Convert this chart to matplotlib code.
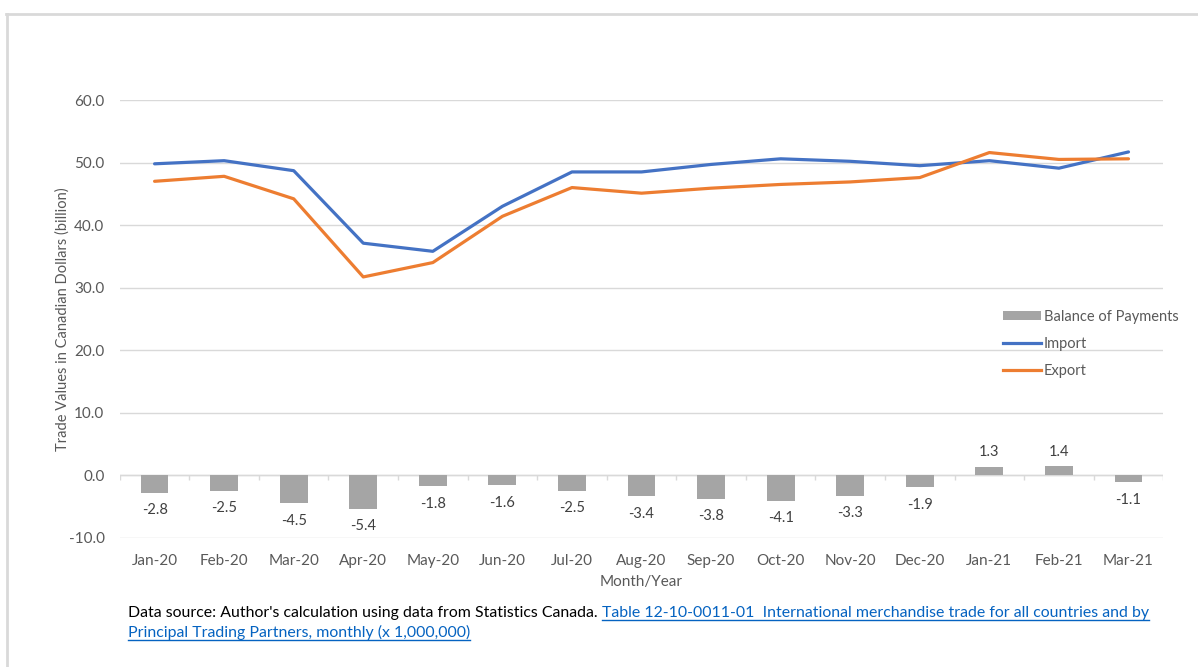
import numpy as np
import matplotlib
matplotlib.use('Agg')
import matplotlib.pyplot as plt
from matplotlib.lines import Line2D
from matplotlib.patches import Patch

plt.rcParams['font.family'] = ['Lato', 'DejaVu Sans']

months = ['Jan-20', 'Feb-20', 'Mar-20', 'Apr-20', 'May-20', 'Jun-20', 'Jul-20',
          'Aug-20', 'Sep-20', 'Oct-20', 'Nov-20', 'Dec-20', 'Jan-21', 'Feb-21', 'Mar-21']
imports = [49.8, 50.3, 48.7, 37.1, 35.8, 43.0, 48.5, 48.5, 49.7, 50.6, 50.2, 49.5, 50.3, 49.1, 51.7]
exports = [47.0, 47.8, 44.2, 31.7, 34.0, 41.4, 46.0, 45.1, 45.9, 46.5, 46.9, 47.6, 51.6, 50.5, 50.6]
balance = [-2.8, -2.5, -4.5, -5.4, -1.8, -1.6, -2.5, -3.4, -3.8, -4.1, -3.3, -1.9, 1.3, 1.4, -1.1]
yticks = [-10, 0, 10, 20, 30, 40, 50, 60]

c_grid = '#d9d9d9'
c_text = '#595959'
c_blue = '#4472c4'
c_orange = '#ed7d31'
c_bar = '#a5a5a5'

fig = plt.figure(figsize=(11.98, 6.67), dpi=100)
ax = fig.add_axes([0.100, 0.194, 0.871, 0.656])

x = np.arange(len(months))
ax.bar(x, balance, width=0.4, color=c_bar, zorder=2)
ax.plot(x, imports, color=c_blue, lw=2.3, zorder=3, solid_capstyle='round')
ax.plot(x, exports, color=c_orange, lw=2.3, zorder=3, solid_capstyle='round')

# bar value labels
for xi, v in zip(x, balance):
    if v < 0:
        ax.text(xi, v - 1.7, f'{v:.1f}', ha='center', va='top', fontsize=10.5, color='#404040')
    else:
        ax.text(xi, v + 1.2, f'{v:.1f}', ha='center', va='bottom', fontsize=10.5, color='#404040')

ax.set_xlim(-0.5, len(months) - 0.5)
ax.set_ylim(-10, 60)
ax.set_yticks(yticks)
ax.set_yticklabels([f'{t:.1f}' for t in yticks])
ax.set_xticks(x)
ax.set_xticklabels(months)
ax.tick_params(axis='both', length=0, colors=c_text, labelsize=11)
ax.tick_params(axis='y', pad=11)
ax.tick_params(axis='x', pad=12)
ax.grid(axis='y', color=c_grid, lw=1, zorder=0)
for s in ax.spines.values():
    s.set_visible(False)

# category axis along zero
ax.axhline(0, color=c_grid, lw=1, zorder=1)
ax.vlines(np.arange(len(months) + 1) - 0.5, -0.8, 0, color=c_grid, lw=1, zorder=1)

ax.set_ylabel('Trade Values in Canadian Dollars (billion)', fontsize=10.5, color=c_text, labelpad=-1)
ax.set_xlabel('Month/Year', fontsize=11, color=c_text, labelpad=5)

handles = [Patch(facecolor=c_bar, edgecolor='none'),
           Line2D([], [], color=c_blue, lw=2.3),
           Line2D([], [], color=c_orange, lw=2.3)]
fig.legend(handles, ['Balance of Payments', 'Import', 'Export'],
           loc='upper left', bbox_to_anchor=(0.826, 0.555), frameon=False,
           fontsize=10.5, labelcolor=c_text, handlelength=2.6, handleheight=0.6,
           handletextpad=0.2, labelspacing=0.9)

# outer frame
fig.add_artist(Line2D([0.005, 1.0], [1 - 14 / 667, 1 - 14 / 667], color=c_grid, lw=2,
                      transform=fig.transFigure))
fig.add_artist(Line2D([0.006, 0.006], [0.0, 1 - 14 / 667], color=c_grid, lw=2,
                      transform=fig.transFigure))

# data source note with link-style text
link_col = '#0563c1'
y1 = 1 - 617 / 667
y2 = 1 - 637 / 667
t0 = fig.text(128 / 1198, y1, "Data source: Author's calculation using data from Statistics Canada. ",
              fontsize=11.4, color='black', va='baseline')
fig.canvas.draw()
r = fig.canvas.get_renderer()
bb = t0.get_window_extent(r)
t1 = fig.text(bb.x1 / fig.bbox.width, y1,
              'Table 12-10-0011-01  International merchandise trade for all countries and by',
              fontsize=11.4, color=link_col, va='baseline')
t2 = fig.text(128 / 1198, y2, 'Principal Trading Partners, monthly (x 1,000,000)',
              fontsize=11.4, color=link_col, va='baseline')
fig.canvas.draw()
for t, yb in ((t1, y1), (t2, y2)):
    e = t.get_window_extent(r)
    yu = yb - 3 / 667
    fig.add_artist(Line2D([e.x0 / fig.bbox.width, e.x1 / fig.bbox.width], [yu, yu],
                          color=link_col, lw=1, transform=fig.transFigure))

fig.savefig('out.png', dpi=100)
